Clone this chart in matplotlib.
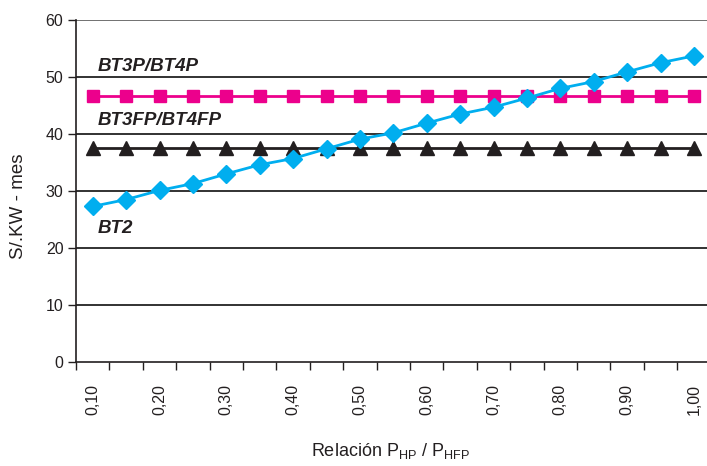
import matplotlib
matplotlib.use("Agg")
import matplotlib.pyplot as plt
import numpy as np

plt.rcParams['font.family'] = ['Liberation Sans', 'DejaVu Sans']

# Ratio P_HP / P_HFP categories
ratios = ["0,10", "0,15", "0,20", "0,25", "0,30", "0,35", "0,40", "0,45", "0,50", "0,55",
          "0,60", "0,65", "0,70", "0,75", "0,80", "0,85", "0,90", "0,95", "1,00"]
tick_labels = ["0,10", "0,20", "0,30", "0,40", "0,50", "0,60", "0,70", "0,80", "0,90", "1,00"]

# Cost in S/.KW - mes per tariff
bt2 = [27.3, 28.5, 30.1, 31.3, 33.0, 34.6, 35.7, 37.4, 39.1, 40.2,
       41.9, 43.5, 44.7, 46.3, 48.0, 49.2, 50.9, 52.5, 53.7]
bt3p_bt4p = [46.6] * 19
bt3fp_bt4fp = [37.6] * 19

blue = "#00AEEF"
pink = "#EC008C"
dark = "#231F20"

fig = plt.figure(figsize=(7.07, 4.66), dpi=100)
ax = fig.add_axes([76 / 707, 1 - 362 / 466, (710.6 - 76) / 707, (362 - 20) / 466])

x = np.arange(len(ratios))

ax.set_ylim(0, 60)
ax.set_xlim(-0.5, len(ratios) - 0.5)

# horizontal gridlines
for yv in range(10, 61, 10):
    ax.axhline(yv, color="#222222" if yv < 60 else "#666666", lw=1.3, zorder=1)

ax.plot(x, bt3fp_bt4fp, color=dark, lw=2, marker="^", ms=10, mfc=dark, mec=dark, zorder=3)
ax.plot(x, bt3p_bt4p, color=pink, lw=2, marker="s", ms=9, mfc=pink, mec=pink, zorder=3)
ax.plot(x, bt2, color=blue, lw=2, marker="D", ms=9, mfc=blue, mec=blue, zorder=4)

lab_kw = dict(fontsize=13.5, fontweight="bold", fontstyle="italic", color=dark, ha="left", va="center")
ax.text(0.15, 51.9, "BT3P/BT4P", **lab_kw)
ax.text(0.15, 42.4, "BT3FP/BT4FP", **lab_kw)
ax.text(0.15, 23.5, "BT2", **lab_kw)

# spines
for s in ["top", "right"]:
    ax.spines[s].set_visible(False)
ax.spines["left"].set_color(dark)
ax.spines["bottom"].set_color(dark)
ax.spines["left"].set_linewidth(1.2)
ax.spines["bottom"].set_linewidth(1.2)

# y axis
ax.set_yticks(range(0, 61, 10))
ax.tick_params(axis="y", direction="out", length=6, width=1, colors=dark, labelsize=11.5, pad=3)

# x axis: tick marks at category boundaries, labels every other category
ax.set_xticks(np.arange(-0.5, len(ratios), 1.0), minor=True)
ax.set_xticks(x[::2])
ax.set_xticklabels(tick_labels, rotation=90)
ax.tick_params(axis="x", which="major", length=0, labelsize=11.5, colors=dark, pad=16)
ax.tick_params(axis="x", which="minor", direction="out", length=6, width=1, colors=dark)

ax.set_ylabel("S/.KW - mes", fontsize=13.5, color=dark)
ax.yaxis.set_label_coords(-0.077, 0.455)
ax.set_xlabel(r"Relación P$_{\mathregular{HP}}$ / P$_{\mathregular{HFP}}$", fontsize=13, color=dark)
ax.xaxis.set_label_coords(0.495, -0.232)

fig.savefig("out.png", dpi=100)
